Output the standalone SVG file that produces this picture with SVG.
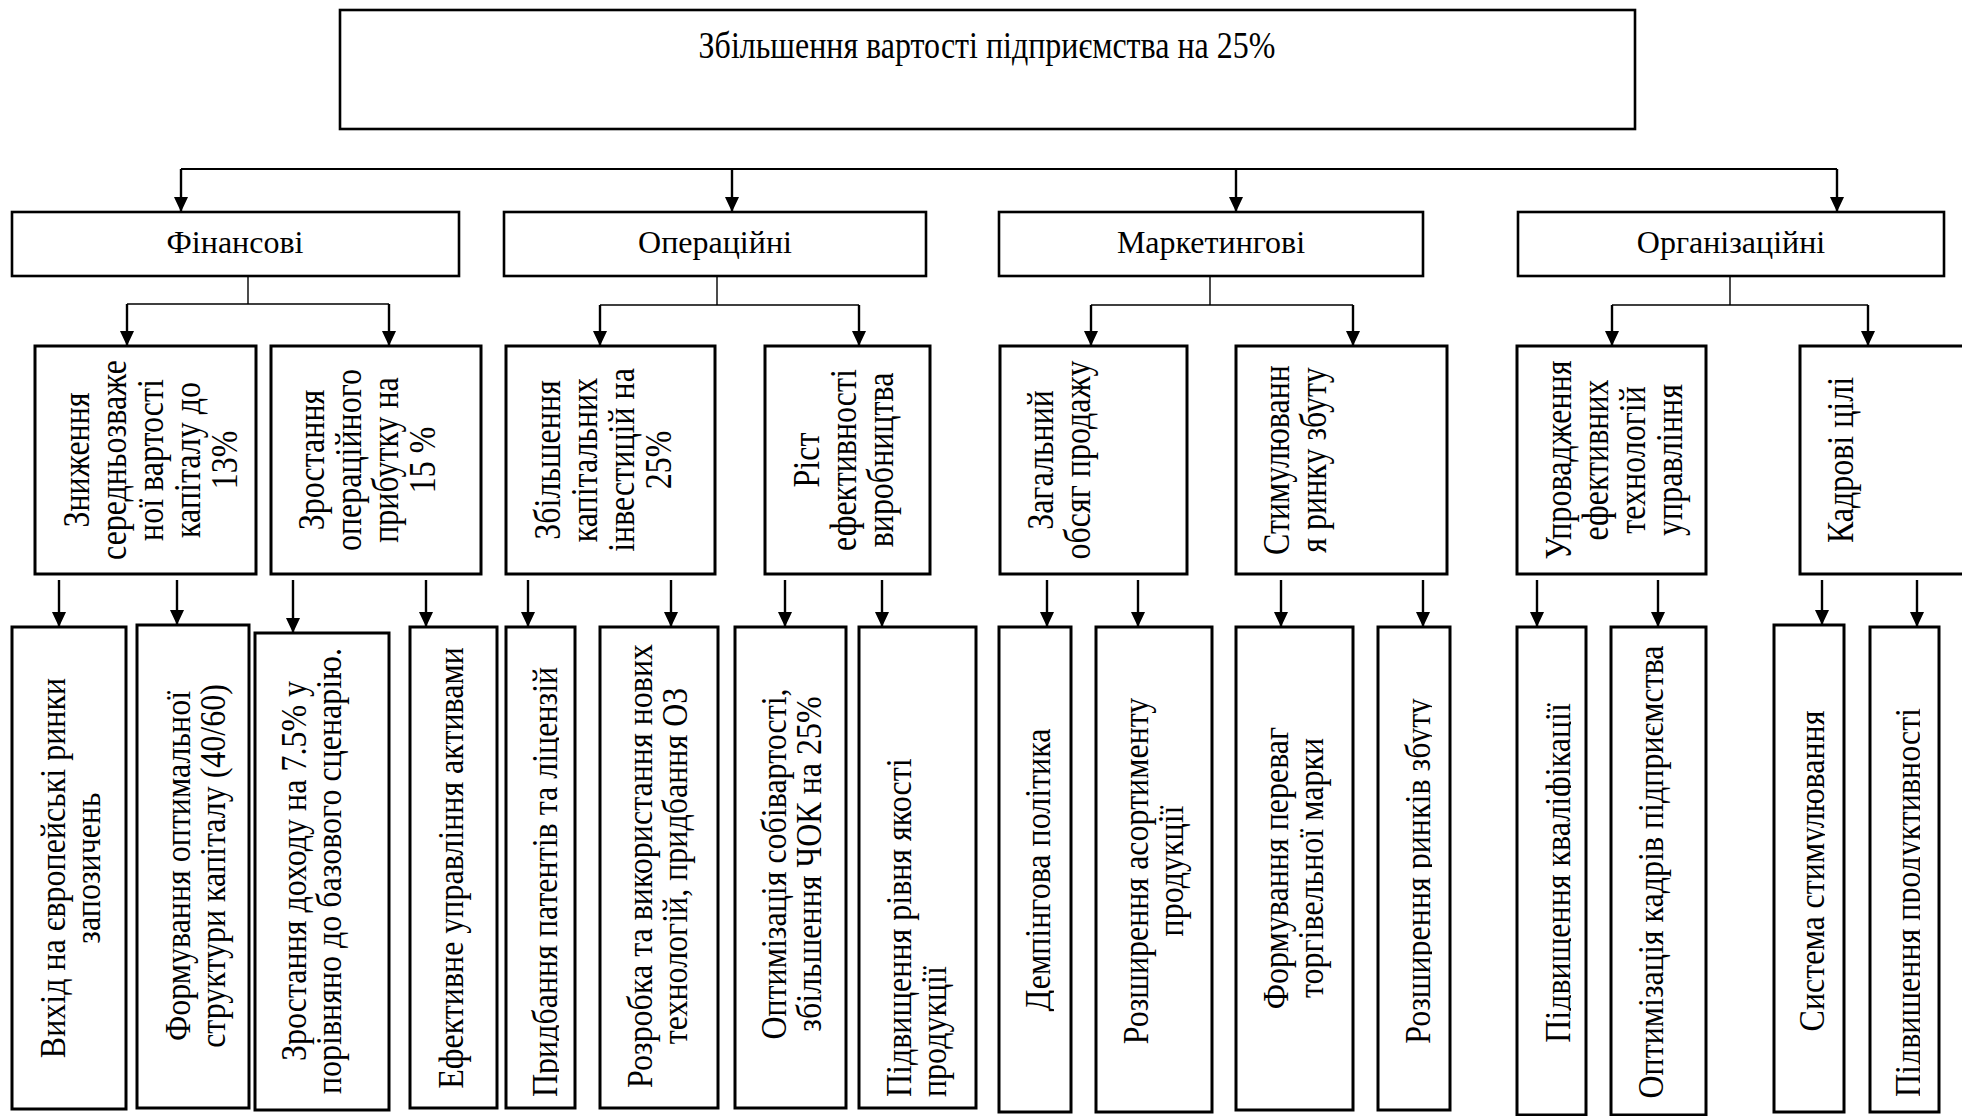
<svg xmlns="http://www.w3.org/2000/svg" width="1962" height="1116" viewBox="0 0 1962 1116">
<style>
.box{fill:#fff;stroke:#000;stroke-width:2.6}
.bx{fill:#fff;stroke:#000;stroke-width:3}
.t{font-size:32px;fill:#000}
.c{text-anchor:middle}
.s{text-anchor:start}
.ln{fill:none;stroke:#000;stroke-width:2}
.thin{fill:none;stroke:#000;stroke-width:1.4}
.ar{fill:none;stroke:#000;stroke-width:2.4;marker-end:url(#ah)}
</style>
<defs>
<marker id="ah" markerUnits="userSpaceOnUse" markerWidth="16" markerHeight="16" viewBox="0 0 16 16" refX="15" refY="8" orient="auto">
<path d="M0,1 L15,8 L0,15 z" fill="#000"/>
</marker>
<clipPath id="k5"><rect x="500" y="620" width="59" height="500"/></clipPath>
<clipPath id="k9"><rect x="990" y="620" width="64" height="500"/></clipPath>
<clipPath id="k12"><rect x="1370" y="620" width="62" height="500"/></clipPath>
<clipPath id="k13"><rect x="1510" y="620" width="61" height="500"/></clipPath>
<clipPath id="k15"><rect x="1768" y="620" width="57" height="500"/></clipPath>
<clipPath id="k16"><rect x="1864" y="620" width="56" height="500"/></clipPath>
</defs>
<rect width="1962" height="1116" fill="#fff"/>

<g id="connectors">
<path class="ln" d="M181 169 H1837"/>
<path class="ar" d="M181 169 V212"/>
<path class="ar" d="M732 169 V212"/>
<path class="ar" d="M1236 169 V212"/>
<path class="ar" d="M1837 169 V212"/>
<path class="thin" d="M248 276 V304 M717 276 V305 M1210 276 V305 M1730 276 V305"/>
<path class="thin" d="M127 304 H389 M600 305 H859 M1091 305 H1353 M1612 305 H1868"/>
<path class="ar" d="M127 304 V346"/>
<path class="ar" d="M389 304 V346"/>
<path class="ar" d="M600 305 V346"/>
<path class="ar" d="M859 305 V346"/>
<path class="ar" d="M1091 305 V346"/>
<path class="ar" d="M1353 305 V346"/>
<path class="ar" d="M1612 305 V346"/>
<path class="ar" d="M1868 305 V346"/>
<path class="ar" d="M59 580 V627"/>
<path class="ar" d="M177 580 V625"/>
<path class="ar" d="M293 580 V633"/>
<path class="ar" d="M426 580 V627"/>
<path class="ar" d="M528 580 V627"/>
<path class="ar" d="M671 580 V627"/>
<path class="ar" d="M785 580 V627"/>
<path class="ar" d="M882 580 V627"/>
<path class="ar" d="M1047 580 V627"/>
<path class="ar" d="M1138 580 V627"/>
<path class="ar" d="M1281 580 V627"/>
<path class="ar" d="M1423 580 V627"/>
<path class="ar" d="M1537 580 V627"/>
<path class="ar" d="M1658 580 V627"/>
<path class="ar" d="M1822 580 V625"/>
<path class="ar" d="M1917 580 V627"/>
</g>

<g font-family="'Liberation Serif', 'DejaVu Serif', serif">
<g id="root">
<rect class="box" x="340" y="10" width="1295" height="119"/>
<text class="t c" transform="translate(987,58) scale(1,1.2)">Збільшення вартості підприємства на 25%</text>
</g>

<g id="fin"><rect class="box" x="12" y="212" width="447" height="64"/><text class="t c" x="235" y="253">Фінансові</text></g>
<g id="op"><rect class="box" x="504" y="212" width="422" height="64"/><text class="t c" x="715" y="253">Операційні</text></g>
<g id="mkt"><rect class="box" x="999" y="212" width="424" height="64"/><text class="t c" x="1211" y="253">Маркетингові</text></g>
<g id="org"><rect class="box" x="1518" y="212" width="426" height="64"/><text class="t c" x="1731" y="253">Організаційні</text></g>

<g id="l3a"><rect class="bx" x="35" y="346" width="221" height="228"/>
<text class="t c" transform="translate(89,460) rotate(-90) scale(1,1.18)"><tspan x="0" y="0">Зниження</tspan><tspan x="0" dy="31.4">середньозваже</tspan><tspan x="0" dy="31.4">ної вартості</tspan><tspan x="0" dy="31.4">капіталу до</tspan><tspan x="0" dy="31.4">13%</tspan></text></g>
<g id="l3b"><rect class="bx" x="271" y="346" width="210" height="228"/>
<text class="t c" transform="translate(324,460) rotate(-90) scale(1,1.18)"><tspan x="0" y="0">Зростання</tspan><tspan x="0" dy="31.4">операційного</tspan><tspan x="0" dy="31.4">прибутку на</tspan><tspan x="0" dy="31.4">15 %</tspan></text></g>
<g id="l3c"><rect class="bx" x="506" y="346" width="209" height="228"/>
<text class="t c" transform="translate(560,460) rotate(-90) scale(1,1.18)"><tspan x="0" y="0">Збільшення</tspan><tspan x="0" dy="31.4">капітальних</tspan><tspan x="0" dy="31.4">інвестицій на</tspan><tspan x="0" dy="31.4">25%</tspan></text></g>
<g id="l3d"><rect class="bx" x="765" y="346" width="165" height="228"/>
<text class="t c" transform="translate(819,460) rotate(-90) scale(1,1.18)"><tspan x="0" y="0">Ріст</tspan><tspan x="0" dy="31.4">ефективності</tspan><tspan x="0" dy="31.4">виробництва</tspan></text></g>
<g id="l3e"><rect class="bx" x="1000" y="346" width="187" height="228"/>
<text class="t c" transform="translate(1053,460) rotate(-90) scale(1,1.18)"><tspan x="0" y="0">Загальний</tspan><tspan x="0" dy="31.4">обсяг продажу</tspan></text></g>
<g id="l3f"><rect class="bx" x="1236" y="346" width="211" height="228"/>
<text class="t c" transform="translate(1289,460) rotate(-90) scale(1,1.18)"><tspan x="0" y="0">Стимулюванн</tspan><tspan x="0" dy="31.4">я ринку збуту</tspan></text></g>
<g id="l3g"><rect class="bx" x="1517" y="346" width="189" height="228"/>
<text class="t c" transform="translate(1571,460) rotate(-90) scale(1,1.18)"><tspan x="0" y="0">Упровадження</tspan><tspan x="0" dy="31.4">ефективних</tspan><tspan x="0" dy="31.4">технологій</tspan><tspan x="0" dy="31.4">управління</tspan></text></g>
<g id="l3h"><rect class="bx" x="1800" y="346" width="180" height="228"/>
<text class="t c" transform="translate(1853,460) rotate(-90) scale(1,1.18)">Кадрові цілі</text></g>

<g id="n1"><rect class="bx" x="12" y="627" width="114" height="482"/>
<text class="t c" transform="translate(65,868) rotate(-90) scale(1,1.1)"><tspan x="0" y="0">Вихід на європейські ринки</tspan><tspan x="0" dy="31.8">запозичень</tspan></text></g>
<g id="n2"><rect class="bx" x="137" y="625" width="112" height="483"/>
<text class="t c" transform="translate(190,866) rotate(-90) scale(1,1.1)"><tspan x="0" y="0">Формування оптимальної</tspan><tspan x="0" dy="31.8">структури капіталу (40/60)</tspan></text></g>
<g id="n3"><rect class="bx" x="255" y="633" width="134" height="477"/>
<text class="t c" transform="translate(306,871) rotate(-90) scale(1,1.1)"><tspan x="0" y="0">Зростання доходу на 7.5% у</tspan><tspan x="0" dy="31.8">порівняно до базового сценарію.</tspan></text></g>
<g id="n4"><rect class="bx" x="410" y="627" width="87" height="481"/>
<text class="t c" transform="translate(463,868) rotate(-90) scale(1,1.1)">Ефективне управління активами</text></g>
<g id="n5"><rect class="bx" x="506" y="627" width="69" height="481"/>
<g clip-path="url(#k5)"><text class="t s" transform="translate(557,1097) rotate(-90) scale(1,1.1)">Придбання патентів та ліцензій</text></g></g>
<g id="n6"><rect class="bx" x="600" y="627" width="118" height="481"/>
<text class="t c" transform="translate(652,866) rotate(-90) scale(1,1.1)"><tspan x="0" y="0">Розробка та використання нових</tspan><tspan x="0" dy="31.8">технологій, придбання ОЗ</tspan></text></g>
<g id="n7"><rect class="bx" x="735" y="627" width="111" height="481"/>
<text class="t c" transform="translate(786,864) rotate(-90) scale(1,1.1)"><tspan x="0" y="0">Оптимізація собівартості,</tspan><tspan x="0" dy="31.8">збільшення ЧОК на 25%</tspan></text></g>
<g id="n8"><rect class="bx" x="859" y="627" width="117" height="481"/>
<text class="t s" transform="translate(911,1097) rotate(-90) scale(1,1.1)"><tspan x="0" y="0">Підвищення рівня якості</tspan><tspan x="0" dy="31.8">продукції</tspan></text></g>
<g id="n9"><rect class="bx" x="999" y="627" width="72" height="485"/>
<g clip-path="url(#k9)"><text class="t c" transform="translate(1050,870) rotate(-90) scale(1,1.1)">Демпінгова політика</text></g></g>
<g id="n10"><rect class="bx" x="1096" y="627" width="116" height="485"/>
<text class="t c" transform="translate(1148,871) rotate(-90) scale(1,1.1)"><tspan x="0" y="0">Розширення асортименту</tspan><tspan x="0" dy="31.8">продукції</tspan></text></g>
<g id="n11"><rect class="bx" x="1236" y="627" width="117" height="483"/>
<text class="t c" transform="translate(1288,868) rotate(-90) scale(1,1.1)"><tspan x="0" y="0">Формування переваг</tspan><tspan x="0" dy="31.8">торгівельної марки</tspan></text></g>
<g id="n12"><rect class="bx" x="1378" y="627" width="72" height="483"/>
<g clip-path="url(#k12)"><text class="t c" transform="translate(1430,871) rotate(-90) scale(1,1.1)">Розширення ринків збуту</text></g></g>
<g id="n13"><rect class="bx" x="1517" y="627" width="69" height="488"/>
<g clip-path="url(#k13)"><text class="t c" transform="translate(1570,873) rotate(-90) scale(1,1.1)">Підвищення кваліфікації</text></g></g>
<g id="n14"><rect class="bx" x="1611" y="627" width="95" height="488"/>
<text class="t c" transform="translate(1663,872) rotate(-90) scale(1,1.1)">Оптимізація кадрів підприємства</text></g>
<g id="n15"><rect class="bx" x="1774" y="625" width="70" height="487"/>
<g clip-path="url(#k15)"><text class="t c" transform="translate(1824,871) rotate(-90) scale(1,1.1)">Система стимулювання</text></g></g>
<g id="n16"><rect class="bx" x="1870" y="627" width="69" height="485"/>
<g clip-path="url(#k16)"><text class="t s" transform="translate(1920,1097) rotate(-90) scale(1,1.1)">Підвищення продуктивності</text></g></g>
</g>
</svg>
